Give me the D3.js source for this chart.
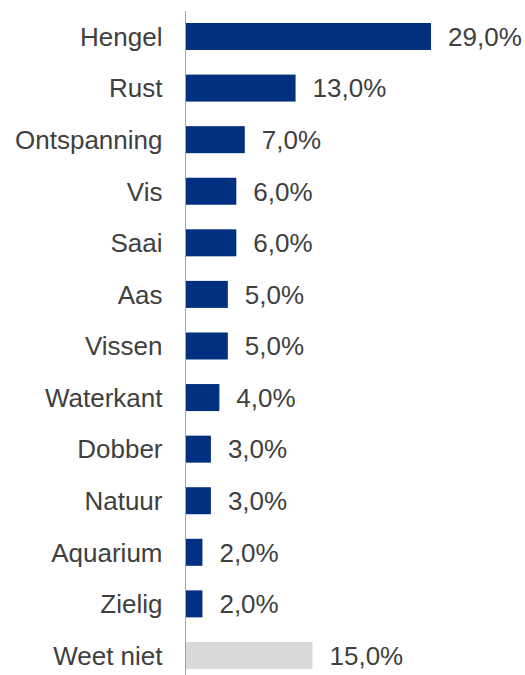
<!DOCTYPE html>
<html lang="nl">
<head>
<meta charset="utf-8">
<title>Associaties</title>
<script src="https://cdn.jsdelivr.net/npm/d3@7"></script>
<style>
  body { margin: 0; background: #fff; }
  text { font-family: "Liberation Sans", Arial, sans-serif; fill: #404040; }
</style>
</head>
<body>
<div id="chart"></div>
<script>
// categories and values (percent)
var categories = ["Hengel", "Rust", "Ontspanning", "Vis", "Saai", "Aas", "Vissen",
                  "Waterkant", "Dobber", "Natuur", "Aquarium", "Zielig", "Weet niet"];
var values = [29, 13, 7, 6, 6, 5, 5, 4, 3, 3, 2, 2, 15];
var greyCategories = ["Weet niet"];

var width = 525, height = 675;
var axisX = 185.5;

var svg = d3.select("#chart").append("svg")
    .attr("width", width)
    .attr("height", height);

var data = categories.map(function(c, i) { return {cat: c, val: values[i]}; });

// scales
var xScale = d3.scaleLinear().domain([0, 30]).range([axisX, axisX + 254]);
var step = 51.58;
var yScale = d3.scaleBand()
    .domain(categories)
    .range([23 - step * 0.238, 23 + 12 * step + 27 + step * 0.238])
    .paddingInner(0.4765)
    .paddingOuter(0.238);

// bars
svg.selectAll("rect.bar")
    .data(data)
    .enter()
    .append("rect")
    .attr("class", "bar")
    .attr("x", xScale(0))
    .attr("y", function(d) { return yScale(d.cat); })
    .attr("width", function(d) { return xScale(d.val) - xScale(0); })
    .attr("height", yScale.bandwidth())
    .style("fill", function(d) { return greyCategories.indexOf(d.cat) >= 0 ? "#d9d9d9" : "#00307f"; });

// category labels
svg.selectAll("text.cat")
    .data(data)
    .enter()
    .append("text")
    .attr("class", "cat")
    .attr("x", axisX - 23)
    .attr("y", function(d) { return yScale(d.cat) + yScale.bandwidth() / 2 + 9.3; })
    .attr("text-anchor", "end")
    .style("font-size", "26px")
    .text(function(d) { return d.cat; });

// value labels
svg.selectAll("text.val")
    .data(data)
    .enter()
    .append("text")
    .attr("class", "val")
    .attr("x", function(d) { return xScale(d.val) + 17; })
    .attr("y", function(d) { return yScale(d.cat) + yScale.bandwidth() / 2 + 9.3; })
    .style("font-size", "26px")
    .text(function(d) { return d.val.toFixed(1).replace(".", ",") + "%"; });

// vertical axis line
svg.append("line")
    .attr("x1", axisX).attr("x2", axisX)
    .attr("y1", 11).attr("y2", height)
    .style("stroke", "#a6a6a6")
    .style("stroke-width", 1);
</script>
</body>
</html>
